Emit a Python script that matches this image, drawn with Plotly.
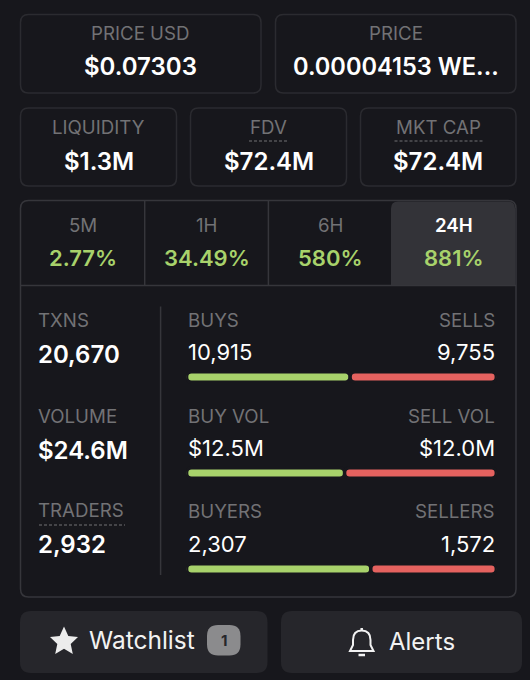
import plotly.graph_objects as go

W, H = 530, 680
FONT = "Inter"
BG = "#17171c"
BORDER = "#2b2b30"
LINE = "#36363b"
GREY = "#727275"
WHITE = "#ffffff"
GREEN = "#a8d26b"
RED = "#e5625f"

# header cards
top_labels = ["PRICE USD", "PRICE"]
top_values = ["$0.07303", "0.00004153 WE..."]
mid_labels = ["LIQUIDITY", "FDV", "MKT CAP"]
mid_values = ["$1.3M", "$72.4M", "$72.4M"]

# time tabs
tab_labels = ["5M", "1H", "6H", "24H"]
tab_changes = ["2.77%", "34.49%", "580%", "881%"]

# left column
stat_labels = ["TXNS", "VOLUME", "TRADERS"]
stat_values = ["20,670", "$24.6M", "2,932"]

# buy / sell rows
buy_labels = ["BUYS", "BUY VOL", "BUYERS"]
sell_labels = ["SELLS", "SELL VOL", "SELLERS"]
buy_text = ["10,915", "$12.5M", "2,307"]
sell_text = ["9,755", "$12.0M", "1,572"]
buy_values = [10915, 12500000, 2307]
sell_values = [9755, 12000000, 1572]


def rrect(x0, y0, x1, y1, r=8, tl=True, tr=True, br=True, bl=True):
    a, b, c, d = [r if k else 0 for k in (tl, tr, br, bl)]
    return (f"M{x0+a},{y0} L{x1-b},{y0} Q{x1},{y0} {x1},{y0+b} L{x1},{y1-c} Q{x1},{y1} {x1-c},{y1} "
            f"L{x0+d},{y1} Q{x0},{y1} {x0},{y1-d} L{x0},{y0+a} Q{x0},{y0} {x0+a},{y0} Z")


shapes = []
annotations = []


def box(x0, y0, x1, y1, fill=BG, line=BORDER, r=8, lw=1.5, **kw):
    shapes.append(dict(type="path", path=rrect(x0, y0, x1, y1, r, **kw), xref="x", yref="y",
                       fillcolor=fill, line=dict(color=line, width=lw), layer="below"))


def seg(x0, y0, x1, y1, color=LINE, lw=1.5, dash="solid"):
    shapes.append(dict(type="line", x0=x0, y0=y0, x1=x1, y1=y1, xref="x", yref="y",
                       line=dict(color=color, width=lw, dash=dash), layer="below"))


def label(x, y, s, size=18.7, color=GREY, anchor="center", weight=400):
    # annotations carry a little padding, so pull aligned text back to the edge
    x = x - 3 if anchor == "left" else x + 2 if anchor == "right" else x
    annotations.append(dict(x=x, y=y, xref="x", yref="y", text=s, showarrow=False, xanchor=anchor,
                            yanchor="middle", font=dict(family=FONT, size=size, color=color, weight=weight)))


# top row
for (x0, x1), lab, val, size in zip([(20.5, 261), (275.5, 516)], top_labels, top_values, [24, 23.6]):
    box(x0, 14.5, x1, 93)
    label((x0 + x1) / 2, 33.5, lab)
    label((x0 + x1) / 2, 66.5, val, size, WHITE, weight=600)

# second row
for (x0, x1), lab, val in zip([(20.5, 176.5), (190.5, 346.5), (360.5, 516)], mid_labels, mid_values):
    box(x0, 108, x1, 186)
    label((x0 + x1) / 2, 127, lab)
    label((x0 + x1) / 2, 161, val, 24, WHITE, weight=600)
seg(249, 141, 288, 141, GREY, 1, "3px,2px")
seg(394.5, 141, 482.5, 141, GREY, 1, "3px,2px")

# main panel
box(20.5, 200.5, 516, 597, line=LINE)
box(391, 201.5, 515, 285, fill="#333338", line="#333338", r=7, lw=0, bl=False, br=False)
seg(21, 285.5, 516, 285.5)
seg(144.7, 201, 144.7, 285)
seg(268.4, 201, 268.4, 285)
for i, (cx, lab, chg) in enumerate(zip([83, 206.5, 330, 453.5], tab_labels, tab_changes)):
    last = i == len(tab_labels) - 1
    label(cx, 225.5, lab, 18.7, WHITE if last else GREY, weight=600 if last else 400)
    label(cx, 258, chg, 22, GREEN, weight=600)

# left column + divider
seg(160.6, 306.5, 160.6, 575)
for y, lab, val, vy in zip([320, 416, 510.5], stat_labels, stat_values, [354, 450, 544.5]):
    label(39, y, lab, anchor="left")
    label(39, vy, val, 24, WHITE, anchor="left", weight=600)
seg(39, 525, 125, 525, GREY, 1, "3px,2px")

# buy / sell text
for y, vy, bl_, sl_, bt, st in zip([320, 416, 511.5], [352, 448, 543.5], buy_labels, sell_labels, buy_text, sell_text):
    label(189, y, bl_, anchor="left")
    label(494.5, y, sl_, anchor="right")
    label(189, vy, bt, 22, WHITE, anchor="left")
    label(494.5, vy, st, 22, WHITE, anchor="right")

# buttons
box(20, 611, 267.5, 673, fill="#26262b", line="#26262b", r=11, lw=0)
box(281, 611, 522, 673, fill="#26262b", line="#26262b", r=11, lw=0)
shapes.append(dict(type="path", xref="x", yref="y", fillcolor="#ececec", line=dict(width=0), layer="below",
                   path="M64,626.5 L68.3,636 L78,637 L70.7,644 L72.8,654 L64,648.8 L55.2,654 L57.3,644 L50,637 L59.7,636 Z"))
box(207, 625, 240.5, 655.5, fill="#8b8b8d", line="#8b8b8d", r=11, lw=0)
label(224, 640.5, "1", 15, "#26262b", weight=700)
label(142, 640, "Watchlist", 24.5, "#f2f2f2")
shapes.append(dict(type="path", xref="x", yref="y", fillcolor="rgba(0,0,0,0)", layer="below",
                   line=dict(color="#f2f2f2", width=2),
                   path="M361.7,630.5 Q370.5,630.5 370.5,640 L370.5,645 L373.5,651 L350,651 L353,645 L353,640 Q353,630.5 361.7,630.5 Z"))
seg(361.7, 628, 361.7, 630.5, "#f2f2f2", 2.5)
seg(358.5, 655, 365, 655, "#f2f2f2", 2.5)
label(422, 641, "Alerts", 24, "#f2f2f2")

buy_share = [b / (b + s) for b, s in zip(buy_values, sell_values)]
sell_share = [1 - b for b in buy_share]

fig = go.Figure()
# empty trace keeps the pixel axes alive for shapes and text
fig.add_trace(go.Scatter(x=[], y=[], xaxis="x", yaxis="y", showlegend=False))
fig.add_trace(go.Bar(y=stat_labels, x=buy_share, base=[0, 0, 0], orientation="h", xaxis="x2", yaxis="y2", width=0.11,
                     marker=dict(color=GREEN, cornerradius=5, line=dict(color=BG, width=3.4)),
                     showlegend=False, hoverinfo="skip"))
fig.add_trace(go.Bar(y=stat_labels, x=sell_share, base=buy_share, orientation="h", xaxis="x2", yaxis="y2", width=0.11,
                     marker=dict(color=RED, cornerradius=5, line=dict(color=BG, width=3.4)),
                     showlegend=False, hoverinfo="skip"))

fig.update_layout(
    width=W, height=H, margin=dict(l=0, r=0, t=0, b=0),
    paper_bgcolor=BG, plot_bgcolor="rgba(0,0,0,0)",
    barmode="overlay",
    xaxis=dict(range=[0, W], visible=False, domain=[0, 1], fixedrange=True),
    yaxis=dict(range=[H, 0], visible=False, domain=[0, 1], fixedrange=True),
    xaxis2=dict(range=[0, 1], visible=False, anchor="y2", domain=[186.6 / W, 496.3 / W], fixedrange=True),
    yaxis2=dict(type="category", categoryorder="array", categoryarray=stat_labels, autorange=False,
                range=[2.5, -0.5], visible=False, anchor="x2",
                domain=[1 - 617 / H, 1 - 329 / H], fixedrange=True),
    shapes=shapes, annotations=annotations,
)

fig.write_html("out.html", config={"displayModeBar": False},
               post_script="document.body.style.margin='0';")
